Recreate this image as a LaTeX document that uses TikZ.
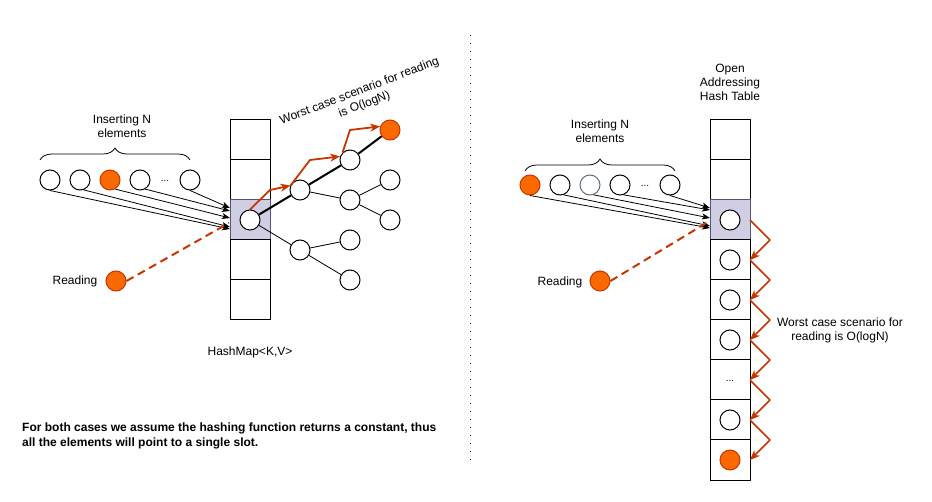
\documentclass[tikz,border=0pt]{standalone}
\usepackage{fontspec}
\setmainfont{Liberation Sans}
\usetikzlibrary{arrows.meta,decorations.pathreplacing}
\definecolor{orfill}{HTML}{FA6800}
\definecolor{orline}{HTML}{C73500}
\definecolor{hlfill}{HTML}{D0CEE2}
\definecolor{hlline}{HTML}{56517E}
\definecolor{grayblue}{HTML}{5C6E80}
\begin{document}
\begin{tikzpicture}[x=1pt,y=-1pt,
  every node/.style={font=\fontsize{12}{14}\selectfont},
  cell/.style={draw, line width=1pt, minimum width=40pt, minimum height=40pt, inner sep=0pt, outer sep=0pt},
  hlcell/.style={cell, fill=hlfill, draw=hlline},
  elem/.style={circle, draw, line width=1pt, fill=white, minimum size=20pt, inner sep=0pt},
  oelem/.style={elem, fill=orfill, draw=orline},
  lbl/.style={align=center, inner sep=0pt},
  feed/.style={-{Stealth[length=8pt,width=6pt,inset=2pt]}, line width=0.8pt},
  oarrow/.style={draw=orline, line width=1.8pt, line join=round, -{Stealth[length=10pt,width=8pt,inset=3pt]}},
  dashline/.style={draw=orline, line width=2pt, dash pattern=on 8pt off 5pt},
  bracestyle/.style={draw, line width=0.8pt, decorate, decoration={brace, amplitude=12pt}},
  thickedge/.style={line width=2pt},
  thinedge/.style={line width=0.8pt}
]
\useasboundingbox (0,0) rectangle (932,502);

% ---------------- left part ----------------
\node[cell] (t1) at (250,140) {};
\node[cell] (t2) at (250,180) {};
\node[hlcell] (t3) at (250,220) {};
\node[cell] (t4) at (250,260) {};
\node[cell] (t5) at (250,300) {};

\node[lbl] (hm) at (250,352) {HashMap<K,V>};

% elements
\node[elem] (a1) at (50,180) {};
\node[elem] (a2) at (80,180) {};
\node[oelem] (a3) at (110,180) {};
\node[elem] (a4) at (140,180) {};
\node[lbl, font=\fontsize{10}{12}\selectfont] (ad) at (165,181) {...};
\node[elem] (a5) at (190,180) {};

\coordinate (lb1) at (40,160);
\coordinate (lb2) at (190,160);
\draw[bracestyle] (lb1) -- (lb2);
\node[lbl] (lins) at (122,126) {Inserting N\\elements};

\coordinate (le1) at (230,208);
\coordinate (le2) at (230,211);
\coordinate (le3) at (230,218);
\coordinate (le4) at (230,227);
\coordinate (le5) at (230,229);
\draw[feed] (a5.south) -- (le1);
\draw[feed] (a4.-60) -- (le2);
\draw[feed] (a3.-60) -- (le3);
\draw[feed] (a2.-70) -- (le4);
\draw[feed] (a1.south) -- (le5);

% reading
\node[lbl] (lread) at (75,281) {Reading};
\node[oelem] (lrd) at (116,281) {};
\coordinate (lrdend) at (229,223);
\draw[dashline] (lrd.east) -- (lrdend);

% tree
\node[elem] (root) at (250,220) {};
\node[elem] (nA) at (300,190) {};
\node[elem] (nC) at (350,160) {};
\node[oelem] (nB) at (390,130) {};
\node[elem] (nD) at (350,200) {};
\node[elem] (nE) at (390,180) {};
\node[elem] (nF) at (390,220) {};
\node[elem] (nG) at (300,250) {};
\node[elem] (nH) at (350,240) {};
\node[elem] (nI) at (350,280) {};

\draw[thickedge] (root) -- (nA);
\draw[thickedge] (nA) -- (nC);
\draw[thickedge] (nC) -- (nB);
\draw[thinedge] (nA) -- (nD);
\draw[thinedge] (nD) -- (nE);
\draw[thinedge] (nD) -- (nF);
\draw[thinedge] (root) -- (nG);
\draw[thinedge] (nG) -- (nH);
\draw[thinedge] (nG) -- (nI);

\draw[oarrow] (root.north) -- (270,190) -- (nA.155);
\draw[oarrow] (nA.155) -- (310,160) -- (nC.160);
\draw[oarrow] (nC.135) -- (350,130) -- (nB.160);

\node[lbl, rotate=21] (lworst) at (362,98) {Worst case scenario for reading\\is O(logN)};

% bottom text
\node[lbl, align=left, anchor=west, font=\fontsize{12}{14.5}\selectfont\bfseries] (note) at (22,436)
  {For both cases we assume the hashing function returns a constant, thus\\all the elements will point to a single slot.};

% separator
\coordinate (sepT) at (470,35);
\coordinate (sepB) at (470,462);
\draw[line width=1pt, dash pattern=on 1pt off 7pt] (sepT) -- (sepB);

% ---------------- right part ----------------
\node[lbl] (oaht) at (730,82) {Open\\Addressing\\Hash Table};

\node[cell] (r1) at (730,140) {};
\node[cell] (r2) at (730,180) {};
\node[hlcell] (r3) at (730,220) {};
\node[cell] (r4) at (730,260) {};
\node[cell] (r5) at (730,300) {};
\node[cell] (r6) at (730,340) {};
\node[cell] (r7) at (730,380) {};
\node[cell] (r8) at (730,420) {};
\node[cell] (r9) at (730,460) {};

\node[elem] (rc3) at (r3) {};
\node[elem] (rc4) at (r4) {};
\node[elem] (rc5) at (r5) {};
\node[elem] (rc6) at (r6) {};
\node[lbl, font=\fontsize{10}{12}\selectfont] (rc7) at (730,381) {...};
\node[elem] (rc8) at (r8) {};
\node[oelem] (rc9) at (r9) {};

\foreach \s/\t in {r3/r4, r4/r5, r5/r6, r6/r7, r7/r8, r8/r9} {
  \draw[oarrow, line width=1.5pt] (\s.east) -- ++(20,20) -- (\t.east);
}

\node[lbl] (rworst) at (840,330) {Worst case scenario for\\reading is O(logN)};

% elements right
\node[oelem] (b1) at (530,185) {};
\node[elem] (b2) at (560,185) {};
\node[elem, draw=grayblue] (b3) at (590,185) {};
\node[elem] (b4) at (620,185) {};
\node[lbl, font=\fontsize{10}{12}\selectfont] (bd) at (645,186) {...};
\node[elem] (b5) at (670,185) {};

\coordinate (rb1) at (525,171);
\coordinate (rb2) at (675,171);
\draw[bracestyle] (rb1) -- (rb2);
\node[lbl] (rins) at (600,131) {Inserting N\\elements};

\coordinate (re1) at (710,208);
\coordinate (re2) at (710,210);
\coordinate (re3) at (710,218);
\coordinate (re4) at (710,226);
\coordinate (re5) at (710,228);
\draw[feed] (b5.south) -- (re1);
\draw[feed] (b4.-70) -- (re2);
\draw[feed] (b3.-70) -- (re3);
\draw[feed] (b2.-70) -- (re4);
\draw[feed] (b1.south) -- (re5);

\node[lbl] (rread) at (560,282) {Reading};
\node[oelem] (rrd) at (600,281) {};
\coordinate (rrdend) at (708,222);
\draw[dashline] (rrd.east) -- (rrdend);
\end{tikzpicture}
\end{document}
